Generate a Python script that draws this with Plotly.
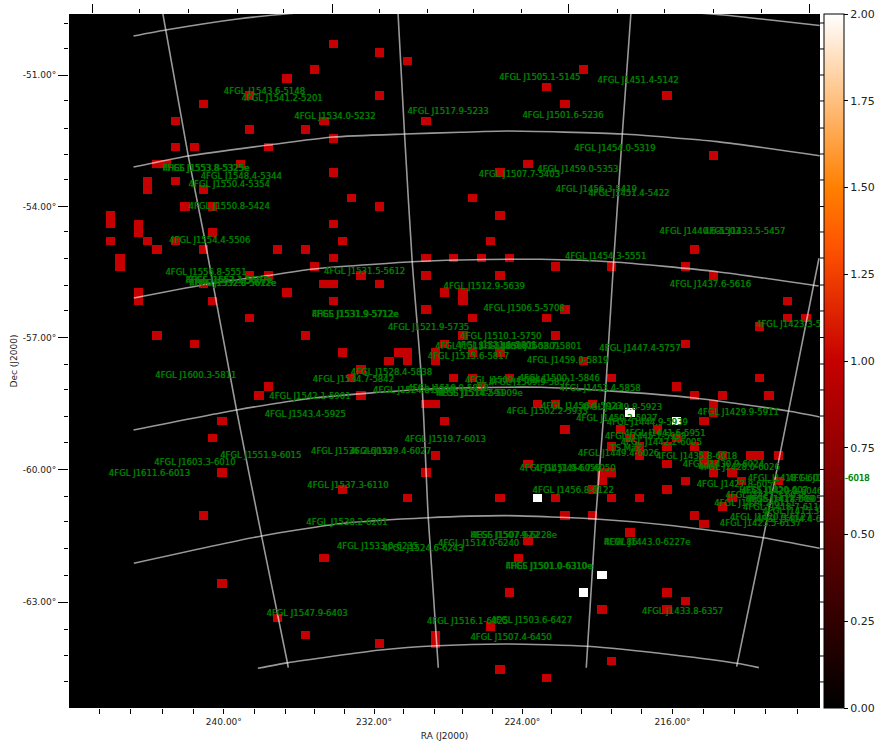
import numpy as np
import plotly.graph_objects as go

# --- sky map cells (image column, image row), 81 x 81 pixel map
GRID_SIZE = 81
CELL_VALUE = 1.0
PEAK_VALUE = 2.0
red_cols = [28,33,36,26,23,19,33,14,11,27,38,19,25,28,11,13,21,9,10,18,8,8,11,28,14,30,12,15,33,4,4,7,7,28,15,
            29,4,8,11,9,14,22,25,55,51,53,64,69,49,46,43,46,45,67,5,5,28,38,41,26,19,21,31,38,14,27,28,33,7,7,23,40,
            15,28,42,42,19,38,9,25,42,13,40,29,35,36,36,39,39,34,31,30,41,21,20,31,38,39,40,16,15,39,16,38,
            44,47,52,58,66,46,69,40,77,77,79,53,51,43,74,52,66,43,46,55,43,47,58,74,44,65,67,70,75,50,52,56,69,69,68,
            53,59,63,60,65,58,61,61,64,67,68,70,73,74,76,64,68,69,49,69,71,57,58,57,66,72,76,64,71,70,67,68,
            29,36,14,27,16,22,25,33,39,39,56,46,52,58,61,53,56,60,49,48,47,64,66,57,64,45,58,46,51]
red_rows = [3,4,5,6,7,9,9,10,12,12,12,13,13,14,15,15,15,17,17,17,19,20,19,18,20,21,22,22,22,23,24,24,25,24,25,
            26,26,26,26,27,27,27,27,6,8,10,9,16,17,18,21,23,26,27,28,29,28,28,28,29,30,30,30,30,31,31,31,31,32,33,32,32,
            33,33,32,33,35,34,37,37,37,38,38,39,39,39,40,39,40,40,41,42,42,43,44,44,45,45,47,47,49,51,53,53,
            28,28,29,29,29,30,30,32,33,35,35,34,35,35,36,37,38,39,39,40,42,42,42,42,43,43,44,44,44,45,45,45,45,46,47,
            48,48,48,49,49,50,50,51,50,50,51,51,51,51,51,52,52,52,52,53,53,53,53,54,54,54,54,55,56,57,58,59,
            55,56,58,63,66,70,72,73,72,73,55,56,56,56,56,58,58,60,61,63,67,67,68,69,69,71,75,76,77]
peak_cols = [60,65,50,57,55]
peak_rows = [46,47,56,65,67]

# --- source labels: text, image column of the label start, image row
label_text = [
 "4FGL J1543.6-5148","4FGL J1541.2-5201","4FGL J1534.0-5232","4FGL J1517.9-5233","4FGL J1553.8-5325e","FHES J1553.8-5325e",
 "4FGL J1548.4-5344","4FGL J1550.4-5354","4FGL J1550.8-5424","4FGL J1554.4-5506","4FGL J1556.8-5551",
 "FHES J1553.1-5607e","4FGL J1553.1-5607e","FHES J1552.8-5612e","4FGL J1552.8-5612e",
 "4FGL J1531.5-5612","FHES J1531.9-5712e","4FGL J1531.9-5712e","4FGL J1521.9-5735","4FGL J1600.3-5811","4FGL J1528.4-5838",
 "4FGL J1534.7-5842","4FGL J1524.8-5906","4FGL J1519.0-5858","4FGL J1514.2-5909e","HESS J1514-591","4FGL J1542.1-5901",
 "4FGL J1543.4-5925","4FGL J1611.6-6013","4FGL J1603.3-6010","4FGL J1551.9-6015","4FGL J1536.2-6033","4FGL J1529.4-6027",
 "4FGL J1519.7-6013","4FGL J1537.3-6110","4FGL J1538.2-6201","4FGL J1533.0-6235","4FGL J1524.6-6243","4FGL J1547.9-6403",
 "4FGL J1516.1-6425","4FGL J1503.6-6427","4FGL J1507.4-6450","4FGL J1514.0-6240","4FGL J1507.9-6228e","HESS J1507-622",
 "4FGL J1501.0-6310e","FHES J1501.0-6310e","4FGL J1443.0-6227e","RCW 86","4FGL J1433.8-6357","4FGL J1456.8-6122",
 "4FGL J1451.9-6050","4FGL J1454.7-6050","4FGL J1449.4-6026","TS Max","4FGL J1442.2-6005","4FGL J1445.1-5958",
 "4FGL J1441.6-5951","4FGL J1444.9-5939","4FGL J1450.2-5937","4FGL J1502.2-5933","4FGL J1449.8-5923","4FGL J1456.4-5923",
 "4FGL J1453.4-5858","4FGL J1500.1-5846","4FGL J1509.9-5852","4FGL J1509.4-5846","4FGL J1459.0-5819","4FGL J1515.6-5817",
 "4FGL J1515.1-5803","4FGL J1511.1-5801","4FGL J1508.1-5801","4FGL J1503.7-5801","4FGL J1510.1-5750","4FGL J1512.9-5639",
 "4FGL J1506.5-5708","4FGL J1454.3-5551","4FGL J1437.6-5616","4FGL J1423.3-5640","4FGL J1447.4-5757","4FGL J1429.9-5911",
 "4FGL J1454.0-5319","4FGL J1459.0-5353","4FGL J1507.7-5403","4FGL J1456.3-5419","4FGL J1451.4-5422","4FGL J1440.6-5503",
 "4FGL J1433.5-5457","4FGL J1501.6-5236","4FGL J1451.4-5142","4FGL J1505.1-5145","4FGL J1435.8-6018","4FGL J1430.9-6024",
 "4FGL J1428.0-6026","4FGL J1418.1-6018","4FGL J1410.4-6018","4FGL J1427.8-6051","HESS J1420-607","4FGL J1420.3-6046e",
 "4FGL J1427.3-6058","HESS J1418-609","4FGL J1417.7-6057","4FGL J1424.2-6111","4FGL J1418.7-6110","4FGL J1415.3-6118",
 "4FGL J1420.9-6127","4FGL J1414.4-6129","4FGL J1423.5-6137",
]
label_col = [
 16.2,18.1,23.8,36.0,9.6,9.6,13.7,12.4,12.4,10.3,9.9,12.1,12.1,12.5,12.5,27.0,25.7,25.7,33.9,8.8,29.9,
 25.8,32.3,36.0,39.1,39.1,21.1,20.6,3.8,8.7,15.8,25.6,29.8,35.7,25.2,25.1,28.4,33.3,20.8,38.1,45.0,42.8,39.3,42.8,42.8,
 46.6,46.6,57.2,57.2,61.3,49.5,48.1,49.7,54.4,57.9,59.0,57.3,59.4,57.5,54.2,46.7,54.7,50.4,52.4,48.0,44.8,42.2,48.9,38.2,
 39.0,41.2,43.7,46.0,41.7,39.9,44.2,53.0,64.3,73.6,56.7,67.3,54.0,50.0,43.7,52.0,55.5,63.2,68.0,48.4,56.5,45.9,62.8,65.7,
 67.4,72.7,77.1,67.2,71.8,72.0,70.3,72.5,72.5,69.1,72.2,74.3,70.8,73.6,69.7,
]
label_row = [
 8.6,9.4,11.5,10.9,17.6,17.6,18.5,19.5,22.0,26.0,29.7,30.7,30.7,31.0,31.0,29.6,34.6,34.6,36.1,41.7,41.4,
 42.2,43.5,43.3,43.8,43.8,44.2,46.3,53.2,51.9,51.1,50.6,50.6,49.2,54.6,58.9,61.7,61.9,69.5,70.5,70.3,72.3,61.3,60.4,60.4,
 64.0,64.0,61.2,61.2,69.3,55.2,52.6,52.6,50.8,50.3,49.5,48.8,48.5,47.2,46.7,45.9,45.5,45.3,43.3,42.1,42.5,42.3,40.0,39.5,
 38.4,38.2,38.3,38.3,37.2,31.3,33.9,27.8,31.1,35.8,38.6,46.1,15.2,17.7,18.3,20.0,20.5,24.9,24.9,11.4,7.3,6.9,51.2,52.1,
 52.5,53.7,53.7,54.5,55.1,55.3,55.8,56.2,56.2,56.7,57.1,57.6,58.3,58.5,59.0,
]

# --- coordinate grid curves (image column, image row)
parallels = [
 ([6.46,9.91,17.68,23.39,35.26,46.05,56.83,70.1,75.17,80.46],[2.07,1.37,0.08,-0.56,-1.55,-1.78,-1.43,-0.38,0.2,0.84]),
 ([6.46,12.36,21.02,28.0,35.69,41.73,46.8,59.18,69.42,80.46],[17.36,16.07,14.79,13.86,13.51,13.31,13.16,13.51,14.4,16.04]),
 ([6.49,14.98,20.91,25.88,36.52,41.73,50.36,58.24,69.42,80.35],[32.65,30.93,30.04,29.26,28.41,28.21,28.13,28.44,29.58,31.25]),
 ([6.46,17.57,25.88,37.6,41.73,50.36,57.37,66.97,77.11,80.46],[48.05,45.72,44.32,43.3,43.15,43.07,43.46,44.32,45.84,46.54]),
 ([6.49,20.27,29.14,38.25,46.77,56.3,64.71,74.39,80.46],[63.61,60.42,58.94,58.29,58.05,58.44,59.22,60.62,61.86]),
 ([19.87,23.04,33.1,39.22,46.77,55.4,64.71,71.51,73.91],[75.86,75.23,73.73,73.23,73.03,73.3,74.31,75.28,75.79]),
]
meridians = [
 ([9.55,12.36,14.01,17.57,20.27,23.04,23.15],[-0.97,16.07,25.06,45.72,60.42,75.13,75.8]),
 ([34.97,35.69,36.52,37.6,38.25,39.33],[-0.97,13.51,28.41,43.3,58.29,75.8]),
 ([60.13,59.18,58.24,57.37,56.3,55.29],[-0.97,13.51,28.44,43.46,58.44,75.8]),
 ([80.39,77.11,74.39,71.51],[28.01,45.84,60.62,75.68]),
]

# --- ticks
ra_tick_cols = [16.2,32.4,48.4,64.6]
ra_tick_text = ["240.00°","232.00°","224.00°","216.00°"]
ra_minor_cols = [2.82,6.17,9.62,12.96,19.54,22.82,26.02,29.25,35.62,38.9,41.98,45.22,51.58,54.82,58.05,61.29,67.98,71.32,74.67,78.12]
top_major_cols = [2.0,27.89,53.42,79.41]
top_minor_cols = [7.1,12.39,17.64,22.64,33.0,38.14,43.17,48.35,58.64,63.77,69.0,74.17]
dec_tick_rows = [6.62,21.97,37.26,52.66,68.13]
dec_tick_text = ["-51.00°","-54.00°","-57.00°","-60.00°","-63.00°"]
dec_minor_rows = [0.55,3.58,9.65,12.81,15.84,18.87,24.94,27.98,31.13,34.16,40.35,43.38,46.42,49.57,55.76,58.79,61.94,65.09,71.28,74.43,77.46]
cbar_ticks = [0,0.25,0.5,0.75,1.0,1.25,1.5,1.75,2.0]

# --- build
z = np.zeros((GRID_SIZE, GRID_SIZE))
z[red_rows, red_cols] = CELL_VALUE
z[peak_rows, peak_cols] = PEAK_VALUE

W, H = 888, 750
L, R, T, B = 68.5, 820.0, 14.0, 708.0
FONT = "DejaVu Sans"
gist_heat = [[0,"rgb(0,0,0)"],[0.5,"rgb(198,0,0)"],[0.667,"rgb(255,85,0)"],[0.75,"rgb(255,128,0)"],[1,"rgb(255,255,255)"]]

fig = go.Figure()
fig.add_trace(go.Heatmap(
    z=z, x=np.arange(GRID_SIZE), y=np.arange(GRID_SIZE), zmin=0, zmax=2, colorscale=gist_heat,
    hoverinfo="skip",
    colorbar=dict(x=(824.5 - L) / (R - L), xanchor="left", xpad=0, ypad=0, y=0.5, yanchor="middle", len=1,
                  thickness=20, tickvals=cbar_ticks, tickformat=".2f", ticks="outside", ticklen=4, tickcolor="black",
                  tickfont=dict(family=FONT, size=11, color="#222"), outlinecolor="black", outlinewidth=1),
))
for xs, ys in parallels + meridians:
    fig.add_trace(go.Scatter(x=xs, y=ys, mode="lines", hoverinfo="skip", showlegend=False,
                             line=dict(color="rgba(255,255,255,0.6)", width=1.6, shape="spline", smoothing=0.6)))
fig.add_trace(go.Scatter(x=label_col, y=label_row, text=label_text, mode="text", textposition="middle right",
                         cliponaxis=False, hoverinfo="skip", showlegend=False,
                         textfont=dict(family=FONT, size=8.5, color="#008000", shadow="0 0 0.7px #008000")))
fig.add_trace(go.Scatter(x=[top_major_cols[0]], y=[dec_tick_rows[0]], xaxis="x2", mode="none", hoverinfo="skip", showlegend=False))

xr = [-0.5, GRID_SIZE - 0.5]
yr = [GRID_SIZE - 0.5, -0.5]
shapes = [dict(type="rect", xref="paper", yref="paper", x0=1, x1=(845 - L) / (R - L), y0=0, y1=1,
               fillcolor="white", line_width=0, layer="above")]
for row in dec_tick_rows + dec_minor_rows:
    shapes.append(dict(type="line", xref="paper", yref="y", x0=1, x1=1 + 4.5 / (R - L), y0=row, y1=row,
                       line=dict(color="black", width=1), layer="above"))

fig.update_layout(
    width=W, height=H, autosize=False, paper_bgcolor="white", plot_bgcolor="black", showlegend=False,
    margin=dict(l=L, r=W - R, t=T, b=H - B, pad=0, autoexpand=False),
    font=dict(family=FONT, size=9, color="#222"),
    shapes=shapes,
    xaxis=dict(range=xr, showgrid=False, zeroline=False, tickmode="array", tickvals=ra_tick_cols, ticktext=ra_tick_text,
               ticks="outside", ticklen=5, tickcolor="black", tickfont=dict(family=FONT, size=9),
               title=dict(text="RA (J2000)", standoff=6, font=dict(family=FONT, size=9)),
               minor=dict(tickmode="array", tickvals=ra_minor_cols, ticks="outside", ticklen=5, tickcolor="black", showgrid=False)),
    xaxis2=dict(range=xr, overlaying="x", side="top", anchor="y", showgrid=False, zeroline=False, tickmode="array",
                tickvals=top_major_cols, ticktext=[""] * 4, ticks="outside", ticklen=9, tickcolor="black", showticklabels=False,
                minor=dict(tickmode="array", tickvals=top_minor_cols, ticks="outside", ticklen=4, tickcolor="black", showgrid=False)),
    yaxis=dict(range=yr, showgrid=False, zeroline=False, tickmode="array", tickvals=dec_tick_rows, ticktext=dec_tick_text,
               ticks="outside", ticklen=10, tickcolor="black", tickfont=dict(family=FONT, size=9),
               title=dict(text="Dec (J2000)", standoff=3, font=dict(family=FONT, size=9)),
               minor=dict(tickmode="array", tickvals=dec_minor_rows, ticks="outside", ticklen=4.5, tickcolor="black", showgrid=False)),
)
fig.write_html("out.html", config={"displayModeBar": False},
               post_script="document.body.style.margin='0';document.body.style.overflow='hidden';")
